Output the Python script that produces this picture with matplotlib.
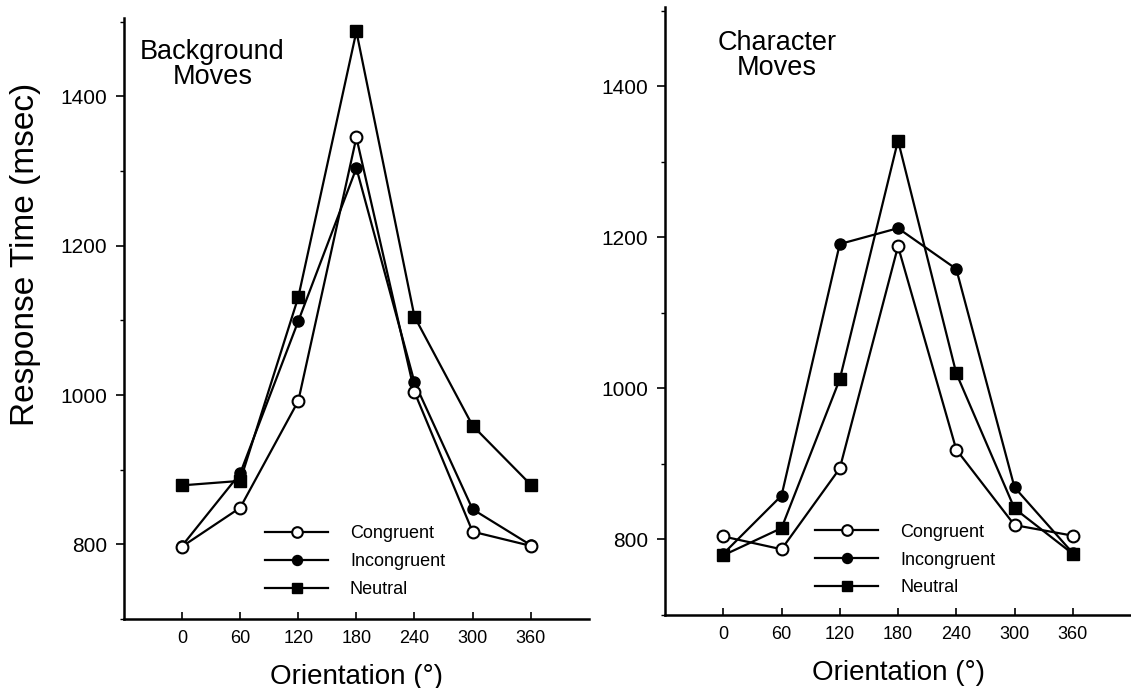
import matplotlib
matplotlib.use("Agg")
import matplotlib.pyplot as plt
from matplotlib.ticker import MultipleLocator

plt.rcParams['font.family'] = ['Liberation Sans', 'DejaVu Sans']

orientation = [0, 60, 120, 180, 240, 300, 360]

# Background Moves panel
bg_congruent = [797, 849, 992, 1345, 1004, 817, 798]
bg_incongruent = [798, 895, 1099, 1304, 1017, 847, 799]
bg_neutral = [879, 885, 1131, 1487, 1105, 959, 880]

# Character Moves panel
ch_congruent = [804, 787, 894, 1188, 919, 819, 805]
ch_incongruent = [781, 858, 1191, 1212, 1158, 869, 782]
ch_neutral = [779, 815, 1012, 1328, 1020, 841, 781]

panel_titles = ["Background\nMoves", "Character\nMoves"]
series_names = ["Congruent", "Incongruent", "Neutral"]
yticks = [800, 1000, 1200, 1400]

fig = plt.figure(figsize=(11.31, 6.88), dpi=100)
ax1 = fig.add_axes([0.1096, 0.1003, 0.411, 0.8735])
ax2 = fig.add_axes([0.588, 0.1061, 0.412, 0.884])


def draw_panel(ax, cong, incong, neut, title, title_xy, legend_anchor):
    ax.plot(orientation, neut, color='black', lw=1.6, marker='s', ms=8,
            mfc='black', mec='black', label=series_names[2], zorder=3)
    ax.plot(orientation, incong, color='black', lw=1.6, marker='o', ms=8,
            mfc='black', mec='black', label=series_names[1], zorder=4)
    ax.plot(orientation, cong, color='black', lw=1.6, marker='o', ms=8.5,
            mfc='white', mec='black', mew=1.5, label=series_names[0], zorder=5)

    ax.set_xlim(-60, 420)
    ax.set_ylim(700, 1505)
    ax.set_xticks(orientation)
    ax.set_yticks(yticks)
    ax.yaxis.set_minor_locator(MultipleLocator(100))
    ax.tick_params(axis='x', direction='in', length=5, width=1.2, labelsize=13, pad=8)
    ax.tick_params(axis='y', which='major', direction='out', length=6, width=1.2,
                   labelsize=15, pad=6)
    ax.tick_params(axis='y', which='minor', direction='out', length=3, width=1)
    for s in ['top', 'right']:
        ax.spines[s].set_visible(False)
    for s in ['left', 'bottom']:
        ax.spines[s].set_linewidth(1.8)

    ax.set_xlabel("Orientation (°)", fontsize=20, labelpad=12)
    ax.text(title_xy[0], title_xy[1], title, transform=ax.transAxes,
            fontsize=19.5, ha='center', va='top', linespacing=0.95)

    handles, labels = ax.get_legend_handles_labels()
    order = [labels.index(n) for n in series_names]
    ax.legend([handles[i] for i in order], [labels[i] for i in order],
              loc='upper left', bbox_to_anchor=legend_anchor, frameon=False,
              fontsize=13, handlelength=3.5, handletextpad=1.2,
              labelspacing=0.6, borderaxespad=0, markerscale=0.9)


draw_panel(ax1, bg_congruent, bg_incongruent, bg_neutral, panel_titles[0],
           (0.19, 0.965), (0.288, 0.168))
draw_panel(ax2, ch_congruent, ch_incongruent, ch_neutral, panel_titles[1],
           (0.24, 0.962), (0.307, 0.162))

ax1.set_ylabel("Response Time (msec)", fontsize=24)
ax1.yaxis.set_label_coords(-0.178, 0.606)

fig.savefig("out.png", dpi=100)
